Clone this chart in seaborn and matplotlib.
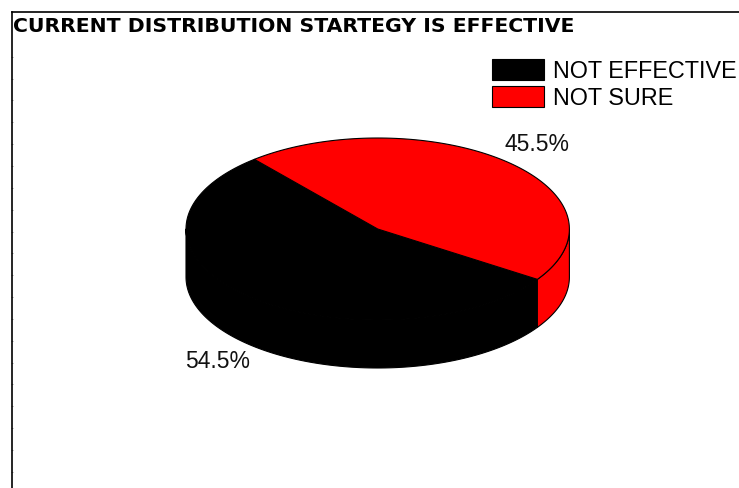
import matplotlib
matplotlib.use("Agg")
import matplotlib.pyplot as plt
import matplotlib.patches as mpatches
import seaborn as sns
import numpy as np

#
# 01. Data
#
titulo = "CURRENT DISTRIBUTION STARTEGY IS EFFECTIVE"
categorias = ["NOT EFFECTIVE", "NOT SURE"]
respostas = [6, 5]
cores = ["#000000", "#ff0000"]

#
# 02. Theme
#
sns.set_theme(style="white")
plt.rcParams["font.family"] = ["Liberation Sans", "DejaVu Sans"]
plt.rcParams["text.color"] = "black"

#
# 03. Figure in pixel coordinates
#
fig = plt.figure(figsize=(7.39, 4.88), dpi=100)
ax = fig.add_axes([0, 0, 1, 1])
ax.set_xlim(0, 739)
ax.set_ylim(488, 0)
ax.set_facecolor("white")

# pie geometry (pixels)
cx, cy = 377.7, 229.0
a, b = 191.7, 91.0
depth = 48.0
primeiro_angulo = 123.6   # first slice angle, clockwise from 12 o'clock


def ponto(theta, dy=0.0):
    t = np.radians(theta)
    return cx + a * np.sin(t), cy - b * np.cos(t) + dy


def arco(t0, t1, dy=0.0, n=120):
    th = np.linspace(t0, t1, n)
    x, y = ponto(th, dy)
    return np.column_stack([x, y])


total = sum(respostas)
fracoes = [v / total for v in respostas]
inicio = primeiro_angulo
fatias = []
for f in fracoes:
    fatias.append((inicio, inicio + f * 360))
    inicio += f * 360

#
# 04. Side walls (only the front half is visible)
#
for (t0, t1), cor in zip(fatias, cores):
    for k in range(-1, 3):
        lo, hi = 90 + 360 * k, 270 + 360 * k
        s0, s1 = max(t0, lo), min(t1, hi)
        if s1 <= s0:
            continue
        topo = arco(s0, s1)
        base = arco(s0, s1, dy=depth)[::-1]
        poly = np.vstack([topo, base])
        ax.add_patch(mpatches.Polygon(poly, closed=True, facecolor=cor,
                                      edgecolor="black", linewidth=0.8,
                                      joinstyle="round"))

#
# 05. Top faces
#
for (t0, t1), cor in zip(fatias, cores):
    poly = np.vstack([[cx, cy], arco(t0, t1)])
    ax.add_patch(mpatches.Polygon(poly, closed=True, facecolor=cor,
                                  edgecolor="black", linewidth=0.8,
                                  joinstyle="round"))

#
# 06. Percentage labels
#
for (t0, t1), v in zip(fatias, respostas):
    meio = (t0 + t1) / 2
    t = np.radians(meio)
    lx = cx + 1.25 * a * np.sin(t)
    ly = cy - 1.25 * b * np.cos(t) + (depth if np.cos(t) < 0 else 0)
    ax.text(lx, ly, f"{100 * v / total:.1f}%", fontsize=16.5,
            ha="center", va="center", color="#111111")

#
# 07. Title
#
ax.text(13, 31.5, titulo, fontsize=14.7, fontweight="bold",
        family="DejaVu Sans", ha="left", va="baseline", color="black")

#
# 08. Legend
#
handles = [mpatches.Patch(facecolor=c, edgecolor="black", linewidth=0.8, label=l)
           for c, l in zip(cores, categorias)]
leg = ax.legend(handles=handles, loc="upper left", bbox_to_anchor=(491.5, 59.5),
                bbox_transform=ax.transData, frameon=False, fontsize=16.8,
                handlelength=2.23, handleheight=1.0, handletextpad=0.39,
                labelspacing=0.15, borderpad=0, borderaxespad=0)
for txt in leg.get_texts():
    txt.set_color("black")

#
# 09. Border lines (spines)
#
for lado in ["right", "bottom"]:
    ax.spines[lado].set_visible(False)
ax.spines["left"].set_position(("data", 12))
ax.spines["left"].set_bounds(12, 488)
ax.spines["top"].set_position(("data", 12))
ax.spines["top"].set_bounds(12, 739)
for lado in ["left", "top"]:
    ax.spines[lado].set_linewidth(1.2)
    ax.spines[lado].set_color("black")

ax.set_xticks([])
ax.yaxis.set_ticks_position("left")
ax.set_yticks(np.arange(56.7, 488, 21.85))
ax.set_yticklabels([])
ax.tick_params(axis="y", direction="inout", length=1.5, width=0.5, color="0.45")

fig.savefig("out.png", dpi=100, facecolor="white")
